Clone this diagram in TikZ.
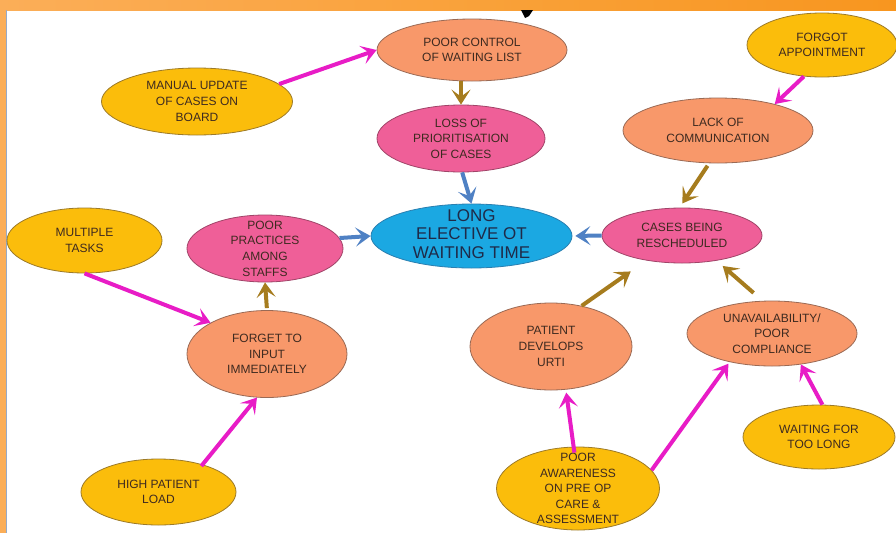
\documentclass[tikz,border=0pt]{standalone}
\usepackage{fontspec}
\setmainfont{Liberation Sans}
\usetikzlibrary{arrows.meta,shapes.geometric}
\definecolor{cyel}{HTML}{FBBD0B}
\definecolor{cyelD}{HTML}{9C7A28}
\definecolor{csal}{HTML}{F8986A}
\definecolor{csalD}{HTML}{9A6A55}
\definecolor{cpnk}{HTML}{EF5F98}
\definecolor{cpnkD}{HTML}{A04468}
\definecolor{cblu}{HTML}{1BA8E2}
\definecolor{cbluD}{HTML}{2A7FB0}
\definecolor{txt}{HTML}{3E2A20}
\definecolor{txtB}{HTML}{1F2A48}
\definecolor{cmag}{HTML}{E81CC6}
\definecolor{cbrn}{HTML}{A67C1E}
\definecolor{carb}{HTML}{4F81C4}
\definecolor{orL}{HTML}{FBAE58}
\definecolor{orR}{HTML}{F8961F}
\begin{document}
\begin{tikzpicture}[x=1pt,y=-1pt,
  lbl/.style={align=center,inner sep=0pt,text=txt,font=\fontsize{12}{15.6}\selectfont},
  lblL/.style={align=center,inner sep=0pt,text=txtB,font=\fontsize{17}{18.5}\selectfont},
  bub/.style={ellipse,draw,line width=0.8pt,inner sep=0pt},
  yel/.style={bub,fill=cyel,draw=cyelD},
  sal/.style={bub,fill=csal,draw=csalD},
  pnk/.style={bub,fill=cpnk,draw=cpnkD},
  blu/.style={bub,fill=cblu,draw=cbluD},
  arr/.style={line width=4pt,-{Stealth[length=15pt,width=19pt,inset=7pt]}},
  marr/.style={arr,draw=cmag,fill=cmag},
  barr/.style={arr,draw=cbrn,fill=cbrn},
  aarr/.style={arr,draw=carb,fill=carb}]
\useasboundingbox (0,0) rectangle (896,533);
\fill[white] (0,0) rectangle (896,533);
% frame
\shade[left color=orL,right color=orR] (0,0) rectangle (896,10);
\fill[orL] (0,0) rectangle (6,533);
\draw[line width=0.8pt,color={rgb,255:red,150;green,170;blue,200}] (6.4,10) -- (6.4,533);
\fill[black] (521,10) -- (533,10) -- (529,16) -- (525,18) -- cycle;

% nodes
\node[sal,minimum width=190,minimum height=62,label={[lbl]center:{POOR CONTROL\\OF WAITING LIST}}] (poorctrl) at (472,50) {};
\node[yel,minimum width=191,minimum height=67,label={[lbl]center:{MANUAL UPDATE\\OF CASES ON\\BOARD}}] (manual) at (197,101.5) {};
\node[pnk,minimum width=168,minimum height=67,label={[lbl]center:{LOSS OF\\PRIORITISATION\\OF CASES}}] (loss) at (461,138.5) {};
\node[yel,minimum width=150,minimum height=64,label={[lbl]center:{FORGOT\\APPOINTMENT}}] (forgot) at (822,45) {};
\node[sal,minimum width=190,minimum height=65,label={[lbl]center:{LACK OF\\COMMUNICATION}}] (lack) at (718,130.5) {};
\node[blu,minimum width=201,minimum height=64,label={[lblL,yshift=2]center:{LONG\\ELECTIVE OT\\WAITING TIME}}] (long) at (471.5,236) {};
\node[yel,minimum width=155,minimum height=65,label={[lbl]center:{MULTIPLE\\TASKS}}] (multiple) at (84.5,240.5) {};
\node[pnk,minimum width=156,minimum height=67,label={[lbl]center:{POOR\\PRACTICES\\AMONG\\STAFFS}}] (practices) at (265,248.5) {};
\node[pnk,minimum width=160,minimum height=55,label={[lbl]center:{CASES BEING\\RESCHEDULED}}] (cases) at (682,235.5) {};
\node[sal,minimum width=160,minimum height=87,label={[lbl]center:{FORGET TO\\INPUT\\IMMEDIATELY}}] (forget) at (267,354) {};
\node[sal,minimum width=162,minimum height=87,label={[lbl]center:{PATIENT\\DEVELOPS\\URTI}}] (urti) at (551,346.5) {};
\node[sal,minimum width=170,minimum height=65,label={[lbl]center:{UNAVAILABILITY/\\POOR\\COMPLIANCE}}] (unavail) at (772,333.5) {};
\node[yel,minimum width=155,minimum height=66,label={[lbl]center:{HIGH PATIENT\\LOAD}}] (high) at (158.5,492) {};
\node[yel,minimum width=163,minimum height=83,label={[lbl]center:{POOR\\AWARENESS\\ON PRE OP\\CARE \&\\ASSESSMENT}}] (aware) at (578,488.5) {};
\node[yel,minimum width=152,minimum height=64,label={[lbl]center:{WAITING FOR\\TOO LONG}}] (waiting) at (819,437) {};

% connectors
\draw[marr] (manual.12) -- (poorctrl.180);
\draw[barr] (poorctrl.south -| loss.north) -- (loss.north);
\draw[aarr] (loss.-88) -- (long.north);
\draw[marr] (forgot.240) -- (lack.25);
\draw[barr,shorten <=3pt,shorten >=5pt] (lack.255) -- (cases.95);
\draw[aarr,shorten >=3pt] (cases.west) -- (long.east);
\draw[aarr] (practices.8) -- (long.west);
\draw[marr] (multiple.south) -- (forget.151);
\draw[barr,shorten <=2pt] (forget.north) -- (practices.south);
\draw[marr,shorten <=-2pt] (high.32) -- (forget.257);
\draw[barr,shorten >=19pt] (urti.53) -- (cases.215);
\draw[barr,shorten <=12pt,shorten >=8pt] (unavail.106) -- (cases.324);
\draw[marr,shorten <=-6pt,shorten >=3pt] (aware.96) -- (urti.289);
\draw[marr,shorten >=2pt] (aware.14) -- (unavail.214);
\draw[marr] (waiting.84) -- (unavail.313);
\end{tikzpicture}
\end{document}
